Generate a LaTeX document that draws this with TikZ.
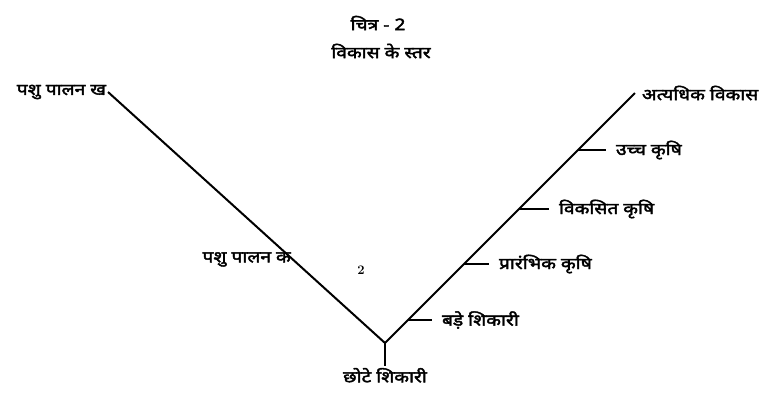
\documentclass[tikz,border=0pt]{standalone}
\usepackage{fontspec}
\newfontfamily\hindi[Script=Devanagari, FakeBold=2.5, FakeStretch=1.2]{Noto Sans}
\usetikzlibrary{positioning, calc}

\begin{document}
\begin{tikzpicture}[x=1pt, y=-1pt, line width=2pt,
    lbl/.style={font=\hindi\fontsize{16}{18}\selectfont, inner sep=1pt},
    tick/.style={line width=1.5pt}]
    \useasboundingbox (0,0) rectangle (772,392);

    % Title
    \node[lbl] (fig) at (378,23) {चित्र - 2};
    \node[lbl] (title) at (381,51) {विकास के स्तर};

    % Points of the V
    \coordinate (V) at (385,343);
    \coordinate (L) at (108,92);
    \coordinate (R) at (635,93);
    \coordinate (S) at (385,366);

    % Nodes
    \node[lbl, anchor=east] (pashuKh) at (L) {पशु पालन ख};
    \node[lbl, anchor=west, inner xsep=6pt] (atyadhik) at (R) {अत्यधिक विकास};
    \node[lbl, anchor=north, inner sep=1pt] (chhote) at (S) {छोटे शिकारी};
    \coordinate (kL) at ($(V)!0.333!(L)$);
    \node[lbl, anchor=east] (pashuK) at (kL) {पशु पालन क};
    \node[font=\bfseries\fontsize{13}{14}\selectfont] (two) at (361,270) {2};

    % Stages on the right branch
    \coordinate (k1) at (408,320);
    \coordinate (k2) at (464,264);
    \coordinate (k3) at (519,209);
    \coordinate (k4) at (578,150);
    \node[lbl, anchor=west] (bade) at ($(k1)+(32,0)$) {बड़े शिकारी};
    \node[lbl, anchor=west] (prarambhik) at ($(k2)+(33,0)$) {प्रारंभिक कृषि};
    \node[lbl, anchor=west] (viksit) at ($(k3)+(38,0)$) {विकसित कृषि};
    \node[lbl, anchor=west] (uchch) at ($(k4)+(36,0)$) {उच्च कृषि};

    % The V and its stem
    \draw (L) -- (V) -- (R);
    \draw (V) -- (S);

    % Ticks
    \draw[tick] (k1) -- ([xshift=-8pt]bade.west);
    \draw[tick] (k2) -- ([xshift=-8pt]prarambhik.west);
    \draw[tick] (k3) -- ([xshift=-8pt]viksit.west);
    \draw[tick] (k4) -- ([xshift=-8pt]uchch.west);
\end{tikzpicture}
\end{document}
